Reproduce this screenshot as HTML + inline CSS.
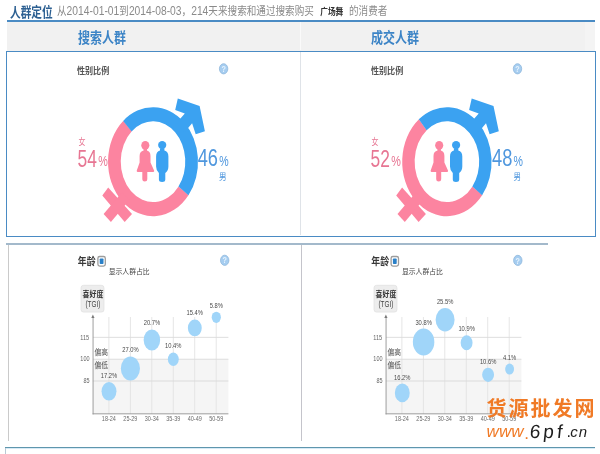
<!DOCTYPE html>
<html lang="zh-CN">
<head>
<meta charset="utf-8">
<title>人群定位</title>
<style>
html,body{margin:0;padding:0;background:#fff;}
body{width:600px;height:454px;overflow:hidden;position:relative;filter:blur(0.45px);font-family:"Liberation Sans","Noto Sans CJK SC",sans-serif;}
.a{position:absolute;}
#l1{left:6.5px;top:20.1px;width:588.3px;height:1.5px;background:#4a8bc4;}
#band{left:6.5px;top:21.6px;width:588.3px;height:29px;background:#f1f1f1;}
#bandr{left:585px;top:21.6px;width:10px;height:29px;background:#f4f4f4;}
#p1{left:5.7px;top:50.6px;width:590.1px;height:186.6px;box-sizing:border-box;border:1.7px solid #4a8bc4;border-top-width:1.8px;border-right-width:1.4px;background:#fff;}
#dv0{left:300.2px;top:21.6px;width:1px;height:28.5px;background:#fafafa;}
#dv1{left:300.4px;top:51.8px;width:1px;height:183.5px;background:#dfe3e8;}
#dv2{left:300.6px;top:244.8px;width:1px;height:196.6px;background:#c4c4cb;}
#p2t{left:6.2px;top:243.1px;width:541.8px;height:1.5px;background:#a3b9cb;}
#p2l{left:7.8px;top:244.6px;width:1.1px;height:196.8px;background:#cacaca;}
#bl{left:5px;top:446.8px;width:590px;height:1.2px;background:#5f96ad;}
#bst{left:5px;top:448px;width:1.2px;height:6px;background:#b9c9d4;}
#bl2{left:5px;top:448px;width:590px;height:1px;background:#d6eaf6;}
svg{position:absolute;left:0;top:0;will-change:transform;}
svg text{font-family:"Liberation Sans","Noto Sans CJK SC",sans-serif;white-space:pre;}
</style>
</head>
<body>
<div class="a" id="l1"></div>
<div class="a" id="band"></div>
<div class="a" id="bandr"></div>
<div class="a" id="dv0"></div>
<div class="a" id="p1"></div>
<div class="a" id="dv1"></div>
<div class="a" id="p2t"></div>
<div class="a" id="p2l"></div>
<div class="a" id="dv2"></div>
<div class="a" id="bl"></div>
<div class="a" id="bl2"></div>
<div class="a" id="bst"></div>
<svg width="600" height="454" viewBox="0 0 600 454">
<text transform="translate(10 16.5) scale(1 1.28)" font-size="10.7" font-weight="bold" fill="#2d6092">人群定位</text>
<text transform="translate(57 15.3) scale(1 1.2)" font-size="9.6" fill="#8a8a8a">从</text>
<text transform="translate(66.6 15.3) scale(1 1.3)" font-size="10.3" fill="#8a8a8a">2014-01-01</text>
<text transform="translate(119.29 15.3) scale(1 1.2)" font-size="9.6" fill="#8a8a8a">到</text>
<text transform="translate(128.89 15.3) scale(1 1.3)" font-size="10.3" fill="#8a8a8a">2014-08-03</text>
<text transform="translate(181.57 15.3) scale(1 1.2)" font-size="9.6" fill="#8a8a8a">，</text>
<text transform="translate(191.17 15.3) scale(1 1.3)" font-size="10.3" fill="#8a8a8a">214</text>
<text transform="translate(208.36 15.3) scale(1 1.2)" font-size="9.6" fill="#8a8a8a">天来搜索和通过搜索购买</text>
<text transform="translate(320.2 14.8) scale(1 1.17)" font-size="7.7" font-weight="bold" fill="#333">广场舞</text>
<text transform="translate(349 15.3) scale(1 1.2)" font-size="9.6" fill="#8a8a8a">的消费者</text>
<text transform="translate(78 43) scale(1 1.22)" font-size="12" font-weight="bold" fill="#3c84c6">搜索人群</text>
<text transform="translate(371 43) scale(1 1.22)" font-size="12" font-weight="bold" fill="#3c84c6">成交人群</text>
<path d="M188.61 195.03A45 54.5 0 1 1 123.36 120.69L131.72 131.3A32.3 40.4 0 1 0 178.56 186.41Z" fill="#fc84a0"/>
<path d="M123.18 120.88A45 54.5 0 0 1 188.46 195.25L178.45 186.57A32.3 40.4 0 0 0 131.6 131.44Z" fill="#3ba2f1"/>
<path fill="#3ba2f1" d="M177.8 98.6L199.6 106.1L204.9 131.3L195.7 134.2L192.1 123.3L184.4 132.6L176.5 123L184.8 113.4L175.2 110.1Z"/>
<path fill="#fc84a0" d="M108.2 187.6L102.3 195.5L124.7 221.9L132 214Z"/>
<path fill="#fc84a0" d="M103.6 214L110.9 221.9L129.4 200.1L122.1 192.2Z"/>
<g transform="translate(0 0)">
<g fill="#fc84a0"><ellipse cx="145.3" cy="145.3" rx="4.05" ry="4.4"/><path d="M143.6 149L143.6 150.6Q139.7 151.4 139.6 156L139.6 162.5L136.7 170.8Q136.5 171.9 137.6 171.9L142.3 171.9L142.3 179.2Q142.3 181.5 144.8 181.5Q147.3 181.5 147.3 179.2L147.3 171.9L153.3 171.9Q154.4 171.9 154.2 170.8L150.5 162.5L150.5 156Q150.4 151.4 147 150.6L147 149Z"/></g>
<g fill="#3ba2f1"><ellipse cx="162.2" cy="145.1" rx="4.1" ry="4.2"/><path d="M160 148.8L160 150.4Q156.1 151.4 156.1 156.5L156.1 166.5Q156.1 170.5 158.9 173L158.9 179.5Q158.9 182 162.1 182Q165.3 182 165.3 179.5L165.3 173Q168.4 170.5 168.4 166.5L168.4 156.5Q168.4 151.4 164.4 150.4L164.4 148.8Z"/></g>
</g>
<text transform="translate(78.4 144.8) scale(1 1.25)" font-size="7" fill="#e77693">女</text>
<text transform="translate(77.6 166.8) scale(1 1.33)" font-size="17.4" fill="#e77693">54</text>
<text transform="translate(98.35 166.4) scale(1 1.32)" font-size="10.8" fill="#e77693">%</text>
<text transform="translate(197.7 166.3) scale(1.05 1.33)" font-size="17.4" fill="#4f97de">46</text>
<text transform="translate(219.32 166) scale(1 1.32)" font-size="10.6" fill="#4f97de">%</text>
<text transform="translate(219.12 180.4) scale(1 1.28)" font-size="7.5" fill="#4f97de">男</text>
<path d="M482.27 195.03A44.7 54.5 0 1 1 418.95 119.17L426.7 130.17A32.3 40.4 0 1 0 472.46 186.41Z" fill="#fc84a0"/>
<path d="M418.77 119.35A44.7 54.5 0 0 1 482.12 195.25L472.35 186.57A32.3 40.4 0 0 0 426.57 130.3Z" fill="#3ba2f1"/>
<path fill="#3ba2f1" d="M471.7 98.6L493.5 106.1L498.8 131.3L489.6 134.2L486 123.3L478.3 132.6L470.4 123L478.7 113.4L469.1 110.1Z"/>
<path fill="#fc84a0" d="M402.1 187.6L396.2 195.5L418.6 221.9L425.9 214Z"/>
<path fill="#fc84a0" d="M397.5 214L404.8 221.9L423.3 200.1L416 192.2Z"/>
<g transform="translate(293.9 0)">
<g fill="#fc84a0"><ellipse cx="145.3" cy="145.3" rx="4.05" ry="4.4"/><path d="M143.6 149L143.6 150.6Q139.7 151.4 139.6 156L139.6 162.5L136.7 170.8Q136.5 171.9 137.6 171.9L142.3 171.9L142.3 179.2Q142.3 181.5 144.8 181.5Q147.3 181.5 147.3 179.2L147.3 171.9L153.3 171.9Q154.4 171.9 154.2 170.8L150.5 162.5L150.5 156Q150.4 151.4 147 150.6L147 149Z"/></g>
<g fill="#3ba2f1"><ellipse cx="162.2" cy="145.1" rx="4.1" ry="4.2"/><path d="M160 148.8L160 150.4Q156.1 151.4 156.1 156.5L156.1 166.5Q156.1 170.5 158.9 173L158.9 179.5Q158.9 182 162.1 182Q165.3 182 165.3 179.5L165.3 173Q168.4 170.5 168.4 166.5L168.4 156.5Q168.4 151.4 164.4 150.4L164.4 148.8Z"/></g>
</g>
<text transform="translate(371.4 144.8) scale(1 1.25)" font-size="7" fill="#e77693">女</text>
<text transform="translate(370.6 166.8) scale(1 1.33)" font-size="17.4" fill="#e77693">52</text>
<text transform="translate(391.35 166.4) scale(1 1.32)" font-size="10.8" fill="#e77693">%</text>
<text transform="translate(492 166.3) scale(1.05 1.33)" font-size="17.4" fill="#4f97de">48</text>
<text transform="translate(513.62 166) scale(1 1.32)" font-size="10.6" fill="#4f97de">%</text>
<text transform="translate(513.42 180.4) scale(1 1.28)" font-size="7.5" fill="#4f97de">男</text>
<text transform="translate(76.9 73.8) scale(1 1.15)" font-size="8.1" font-weight="bold" fill="#555">性别比例</text>
<text transform="translate(370.9 73.8) scale(1 1.15)" font-size="8.1" font-weight="bold" fill="#555">性别比例</text>
<ellipse cx="223.6" cy="68.8" rx="4.2" ry="5.1" fill="#a6cdf0" stroke="#8fb7dc" stroke-width="0.8"/>
<text transform="translate(221.4 71.9) scale(1 1.2)" font-size="7.2" fill="#e4f2fd" font-weight="bold">?</text>
<ellipse cx="517.5" cy="68.8" rx="4.2" ry="5.1" fill="#a6cdf0" stroke="#8fb7dc" stroke-width="0.8"/>
<text transform="translate(515.3 71.9) scale(1 1.2)" font-size="7.2" fill="#e4f2fd" font-weight="bold">?</text>
<ellipse cx="224.7" cy="260.3" rx="4.2" ry="5.1" fill="#a6cdf0" stroke="#8fb7dc" stroke-width="0.8"/>
<text transform="translate(222.5 263.4) scale(1 1.2)" font-size="7.2" fill="#e4f2fd" font-weight="bold">?</text>
<ellipse cx="517.8" cy="260.4" rx="4.2" ry="5.1" fill="#a6cdf0" stroke="#8fb7dc" stroke-width="0.8"/>
<text transform="translate(515.6 263.5) scale(1 1.2)" font-size="7.2" fill="#e4f2fd" font-weight="bold">?</text>
<rect x="92.9" y="359.2" width="135.5" height="54.8" fill="#f5f5f5"/>
<rect x="108.45" y="317" width="0.9" height="97" fill="#e3e3e3"/>
<rect x="129.91" y="317" width="0.9" height="97" fill="#e3e3e3"/>
<rect x="151.37" y="317" width="0.9" height="97" fill="#e3e3e3"/>
<rect x="172.83" y="317" width="0.9" height="97" fill="#e3e3e3"/>
<rect x="194.29" y="317" width="0.9" height="97" fill="#e3e3e3"/>
<rect x="215.75" y="317" width="0.9" height="97" fill="#e3e3e3"/>
<rect x="92.9" y="336.85" width="135.5" height="0.9" fill="#dadada"/>
<rect x="92.9" y="358.75" width="135.5" height="0.9" fill="#dadada"/>
<rect x="92.9" y="380.55" width="135.5" height="0.9" fill="#dadada"/>
<rect x="92.6" y="317" width="0.9" height="97.4" fill="#949494"/>
<rect x="92.6" y="413.4" width="135.8" height="0.9" fill="#949494"/>
<path d="M92.9 314.4l-1.6 3.6h3.2z" fill="#7a7a7a"/>
<rect x="81" y="285.3" width="23" height="26.8" rx="2.6" fill="#ededed" stroke="#e0e0e0" stroke-width="0.7"/>
<text transform="translate(82.6 297.4) scale(1 1.15)" font-size="6.95" font-weight="bold" fill="#333">喜好度</text>
<text transform="translate(85.44 307) scale(1 1.39)" font-size="6.4" fill="#444">(TGI)</text>
<text transform="translate(80.32 339.5) scale(1 1.33)" font-size="5.5" fill="#666">115</text>
<text transform="translate(80.32 361.4) scale(1 1.33)" font-size="5.5" fill="#666">100</text>
<text transform="translate(83.38 383.2) scale(1 1.33)" font-size="5.5" fill="#666">85</text>
<text transform="translate(94.6 355.2) scale(1 1.13)" font-size="6.7" fill="#4a4a4a">偏高</text>
<text transform="translate(94.6 368.4) scale(1 1.13)" font-size="6.7" fill="#4a4a4a">偏低</text>
<text transform="translate(101.87 421.4) scale(1 1.3)" font-size="5.5" fill="#6a6a6a">18-24</text>
<text transform="translate(123.33 421.4) scale(1 1.3)" font-size="5.5" fill="#6a6a6a">25-29</text>
<text transform="translate(144.79 421.4) scale(1 1.3)" font-size="5.5" fill="#6a6a6a">30-34</text>
<text transform="translate(166.25 421.4) scale(1 1.3)" font-size="5.5" fill="#6a6a6a">35-39</text>
<text transform="translate(187.71 421.4) scale(1 1.3)" font-size="5.5" fill="#6a6a6a">40-49</text>
<text transform="translate(209.17 421.4) scale(1 1.3)" font-size="5.5" fill="#6a6a6a">50-59</text>
<ellipse cx="109" cy="391.3" rx="7.45" ry="9.3" fill="#a0d5f9"/>
<text transform="translate(100.78 377.9) scale(1 1.36)" font-size="5.8" fill="#4a4a4a">17.2%</text>
<ellipse cx="130.4" cy="368.5" rx="9.55" ry="12.1" fill="#a0d5f9"/>
<text transform="translate(122.18 352.3) scale(1 1.36)" font-size="5.8" fill="#4a4a4a">27.0%</text>
<ellipse cx="151.9" cy="340" rx="8.25" ry="10.45" fill="#a0d5f9"/>
<text transform="translate(143.68 325.45) scale(1 1.36)" font-size="5.8" fill="#4a4a4a">20.7%</text>
<ellipse cx="173.3" cy="359.2" rx="5.45" ry="6.8" fill="#a0d5f9"/>
<text transform="translate(165.08 348.3) scale(1 1.36)" font-size="5.8" fill="#4a4a4a">10.4%</text>
<ellipse cx="194.8" cy="327.9" rx="6.95" ry="8.45" fill="#a0d5f9"/>
<text transform="translate(186.58 315.35) scale(1 1.36)" font-size="5.8" fill="#4a4a4a">15.4%</text>
<ellipse cx="216.3" cy="317.3" rx="4.6" ry="5.65" fill="#a0d5f9"/>
<text transform="translate(209.69 307.55) scale(1 1.36)" font-size="5.8" fill="#4a4a4a">5.8%</text>
<rect x="385.9" y="359.2" width="135.5" height="54.8" fill="#f5f5f5"/>
<rect x="401.45" y="317" width="0.9" height="97" fill="#e3e3e3"/>
<rect x="422.91" y="317" width="0.9" height="97" fill="#e3e3e3"/>
<rect x="444.37" y="317" width="0.9" height="97" fill="#e3e3e3"/>
<rect x="465.83" y="317" width="0.9" height="97" fill="#e3e3e3"/>
<rect x="487.29" y="317" width="0.9" height="97" fill="#e3e3e3"/>
<rect x="508.75" y="317" width="0.9" height="97" fill="#e3e3e3"/>
<rect x="385.9" y="336.85" width="135.5" height="0.9" fill="#dadada"/>
<rect x="385.9" y="358.75" width="135.5" height="0.9" fill="#dadada"/>
<rect x="385.9" y="380.55" width="135.5" height="0.9" fill="#dadada"/>
<rect x="385.6" y="317" width="0.9" height="97.4" fill="#949494"/>
<rect x="385.6" y="413.4" width="135.8" height="0.9" fill="#949494"/>
<path d="M385.9 314.4l-1.6 3.6h3.2z" fill="#7a7a7a"/>
<rect x="374" y="285.3" width="23" height="26.8" rx="2.6" fill="#ededed" stroke="#e0e0e0" stroke-width="0.7"/>
<text transform="translate(375.6 297.4) scale(1 1.15)" font-size="6.95" font-weight="bold" fill="#333">喜好度</text>
<text transform="translate(378.44 307) scale(1 1.39)" font-size="6.4" fill="#444">(TGI)</text>
<text transform="translate(373.32 339.5) scale(1 1.33)" font-size="5.5" fill="#666">115</text>
<text transform="translate(373.32 361.4) scale(1 1.33)" font-size="5.5" fill="#666">100</text>
<text transform="translate(376.38 383.2) scale(1 1.33)" font-size="5.5" fill="#666">85</text>
<text transform="translate(387.6 355.2) scale(1 1.13)" font-size="6.7" fill="#4a4a4a">偏高</text>
<text transform="translate(387.6 368.4) scale(1 1.13)" font-size="6.7" fill="#4a4a4a">偏低</text>
<text transform="translate(394.87 421.4) scale(1 1.3)" font-size="5.5" fill="#6a6a6a">18-24</text>
<text transform="translate(416.33 421.4) scale(1 1.3)" font-size="5.5" fill="#6a6a6a">25-29</text>
<text transform="translate(437.79 421.4) scale(1 1.3)" font-size="5.5" fill="#6a6a6a">30-34</text>
<text transform="translate(459.25 421.4) scale(1 1.3)" font-size="5.5" fill="#6a6a6a">35-39</text>
<text transform="translate(480.71 421.4) scale(1 1.3)" font-size="5.5" fill="#6a6a6a">40-49</text>
<text transform="translate(502.17 421.4) scale(1 1.3)" font-size="5.5" fill="#6a6a6a">50-59</text>
<ellipse cx="402.3" cy="392.9" rx="7.45" ry="9.3" fill="#a0d5f9"/>
<text transform="translate(394.08 379.5) scale(1 1.36)" font-size="5.8" fill="#4a4a4a">16.2%</text>
<ellipse cx="423.6" cy="342" rx="10.75" ry="13.4" fill="#a0d5f9"/>
<text transform="translate(415.38 324.5) scale(1 1.36)" font-size="5.8" fill="#4a4a4a">30.8%</text>
<ellipse cx="445.1" cy="319.7" rx="9.5" ry="11.7" fill="#a0d5f9"/>
<text transform="translate(436.88 303.9) scale(1 1.36)" font-size="5.8" fill="#4a4a4a">25.5%</text>
<ellipse cx="466.6" cy="342.7" rx="5.95" ry="7.45" fill="#a0d5f9"/>
<text transform="translate(458.38 331.15) scale(1 1.36)" font-size="5.8" fill="#4a4a4a">10.9%</text>
<ellipse cx="488.1" cy="374.8" rx="5.95" ry="7.15" fill="#a0d5f9"/>
<text transform="translate(479.88 363.55) scale(1 1.36)" font-size="5.8" fill="#4a4a4a">10.6%</text>
<ellipse cx="509.6" cy="369.1" rx="4.45" ry="5.5" fill="#a0d5f9"/>
<text transform="translate(502.99 359.5) scale(1 1.36)" font-size="5.8" fill="#4a4a4a">4.1%</text>
<text transform="translate(77.8 265.2) scale(1 1.19)" font-size="8.9" font-weight="bold" fill="#3a3a3a">年龄</text>
<rect x="97.9" y="256.5" width="7.4" height="9.6" rx="1.8" fill="#fff" stroke="#9c9c9c" stroke-width="1.3"/>
<rect x="99.7" y="258.5" width="3.8" height="5.6" rx="0.8" fill="#2a80c8"/>
<text transform="translate(108.7 274.2) scale(1 1.07)" font-size="6.85" fill="#444">显示人群占比</text>
<text transform="translate(371.3 265.2) scale(1 1.19)" font-size="8.9" font-weight="bold" fill="#3a3a3a">年龄</text>
<rect x="391.1" y="256.5" width="7.4" height="9.6" rx="1.8" fill="#fff" stroke="#9c9c9c" stroke-width="1.3"/>
<rect x="392.9" y="258.5" width="3.8" height="5.6" rx="0.8" fill="#2a80c8"/>
<text transform="translate(401.9 274.2) scale(1 1.07)" font-size="6.85" fill="#444">显示人群占比</text>
<text transform="translate(486.5 416.2)" font-size="20" letter-spacing="2" font-weight="bold" fill="#f07a26">货源批发网</text>
<text transform="translate(486.6 436.6)" font-size="17" font-style="italic" fill="#f07a26">www</text>
<text transform="translate(524.2 438.6)" font-size="17" fill="#f07a26">.</text>
<text transform="translate(529.3 438.2) skewX(-6)" font-size="19" letter-spacing="3" fill="#1e1e1e">6pf</text>
<text transform="translate(566.6 437.4)" font-size="16" fill="#1e1e1e">.</text>
<text transform="translate(570.2 437.2)" font-size="15" letter-spacing="1" font-style="italic" fill="#1e1e1e">cn</text>
</svg>
</body>
</html>
